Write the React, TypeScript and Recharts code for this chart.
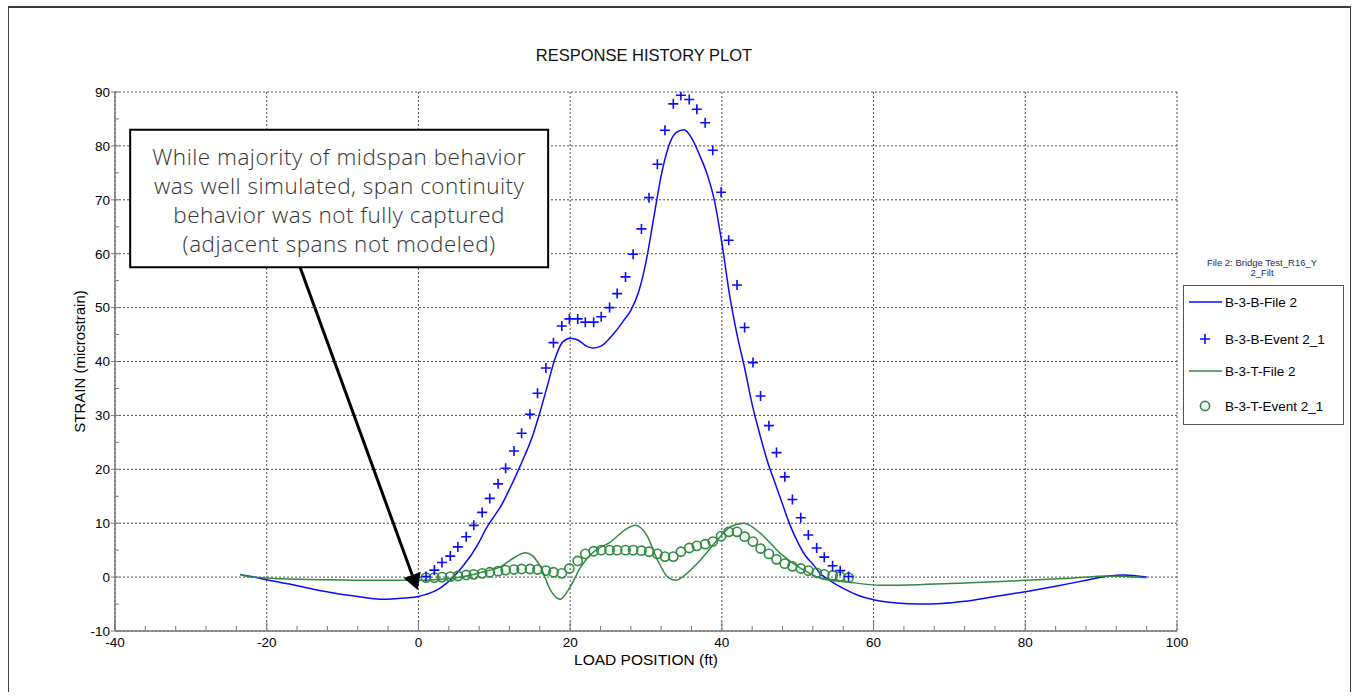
import {
  ComposedChart,
  Line,
  Scatter,
  XAxis,
  YAxis,
  CartesianGrid,
  ReferenceArea,
  ReferenceLine,
} from "recharts";

const FONT = '"Liberation Sans", Arial, sans-serif';
const NOTE_FONT = '"Open Sans", "DejaVu Sans", sans-serif';
const BLUE = "#0a0aff";
const GREEN = "#2e8b3f";
const AXIS = "#7a7a7a";

// axis ticks
const X_ALL_TICKS = [
  -40, -36, -32, -28, -24, -20, -16, -12, -8, -4, 0, 4, 8, 12, 16, 20, 24, 28, 32, 36, 40,
  44, 48, 52, 56, 60, 64, 68, 72, 76, 80, 84, 88, 92, 96, 100,
];
const X_MAJOR_TICKS = [-40, -20, 0, 20, 40, 60, 80, 100];
const X_GRID = [-20, 0, 20, 40, 60, 80];
const Y_ALL_TICKS = [-10, -5, 0, 5, 10, 15, 20, 25, 30, 35, 40, 45, 50, 55, 60, 65, 70, 75, 80, 85, 90];
const Y_MAJOR_TICKS = [-10, 0, 10, 20, 30, 40, 50, 60, 70, 80, 90];
const Y_GRID = [0, 10, 20, 30, 40, 50, 60, 70, 80];

// B-3-B-File 2 (model, blue line)
const B_FILE_X = [
  -23.5, -22, -20, -17, -14, -11, -8, -5, -3, -1, 0, 1, 2, 3, 4, 5, 6, 7, 8, 9, 10, 11, 12, 13,
  14, 15, 16, 17, 18, 19, 20, 21, 22, 23, 24, 25, 26, 27, 28, 29, 30, 31, 32, 33, 34, 35, 36,
  37, 38, 39, 40, 41, 42, 43, 44, 45, 46, 47, 48, 49, 50, 51, 52, 53, 54, 56, 58, 60, 63, 66,
  69, 72, 76, 80, 84, 88, 91, 93, 96,
];
const B_FILE_Y = [
  0.5, 0.1, -0.5, -1.3, -2.2, -3.0, -3.6, -4.1, -4.0, -3.8, -3.6, -3.2, -2.7, -1.9, -0.8, 0.6,
  2.3, 4.2, 6.5, 9.2, 11.3, 13.5, 16.3, 19.3, 22.5, 26.0, 30.5, 35.5, 40.5, 43.6, 44.3, 44.0,
  43.0, 42.5, 42.8, 44.0, 45.6, 47.5, 49.5, 52.8, 58.5, 66.5, 74.5, 80.0, 82.5, 83.0, 81.5,
  78.5, 75.0, 70.0, 62.0, 52.5, 45.0, 38.8, 32.0, 26.5, 21.5, 17.5, 13.5, 9.6, 6.5, 4.0, 2.4,
  0.6, -0.4, -2.1, -3.4, -4.2, -4.8, -5.0, -4.9, -4.5, -3.6, -2.7, -1.7, -0.6, 0.2, 0.4, 0.0,
];

// B-3-T-File 2 (model, green line)
const T_FILE_X = [
  -23.5, -22, -18, -12, -6, 0, 3, 6, 8.6, 10.8, 12.5, 14.1, 15, 16.1, 17.4, 18.7, 20, 21.4,
  23.1, 25.3, 27.5, 28.6, 30.2, 31.5, 32.8, 33.9, 35.4, 37.2, 39.4, 41.1, 42.9, 45.1, 47.7,
  50.4, 53, 56.5, 60.9, 66, 72, 80, 86, 91, 96,
];
const T_FILE_Y = [
  0.5, 0.0, -0.3, -0.5, -0.6, -0.6, -0.4, 0.1, 1.0, 1.9, 3.5, 4.5, 4.0, 1.9, -2.4, -4.1, -1.8,
  1.9, 4.7, 6.5, 9.0, 9.6, 7.5, 3.2, 0.1, -0.6, 0.7, 3.2, 6.9, 9.3, 10.0, 8.1, 4.4, 1.6, -0.2,
  -0.9, -1.5, -1.4, -1.1, -0.6, -0.2, 0.2, -0.1,
];

// field test events (markers share load positions)
const EVENT_X = [
  1.0, 2.1, 3.1, 4.2, 5.2, 6.3, 7.3, 8.4, 9.4, 10.5, 11.5, 12.6, 13.6, 14.7, 15.7, 16.8, 17.8,
  18.9, 19.9, 21.0, 22.0, 23.1, 24.1, 25.2, 26.2, 27.3, 28.3, 29.4, 30.4, 31.5, 32.5, 33.6,
  34.6, 35.7, 36.7, 37.8, 38.8, 39.9, 40.9, 42.0, 43.0, 44.1, 45.1, 46.2, 47.2, 48.3, 49.3,
  50.4, 51.4, 52.5, 53.5, 54.6, 55.6, 56.7,
];
const B_EVENT_Y = [
  0.1, 1.3, 2.7, 3.9, 5.6, 7.5, 9.6, 12.0, 14.6, 17.3, 20.2, 23.4, 26.7, 30.2, 34.1, 38.8, 43.5,
  46.6, 47.9, 47.9, 47.3, 47.3, 48.3, 50.0, 52.6, 55.7, 59.9, 64.6, 70.4, 76.6, 82.9, 87.8,
  89.4, 88.6, 86.8, 84.3, 79.2, 71.4, 62.5, 54.2, 46.3, 39.8, 33.6, 28.1, 23.1, 18.6, 14.4,
  11.0, 7.8, 5.4, 3.7, 2.1, 1.2, 0.1,
];
const T_EVENT_Y = [
  -0.1, -0.1, 0.0, 0.1, 0.2, 0.4, 0.5, 0.7, 0.9, 1.1, 1.3, 1.4, 1.5, 1.5, 1.4, 1.2, 0.9, 0.7,
  1.6, 3.0, 4.3, 4.8, 5.0, 5.0, 5.0, 5.0, 5.0, 4.9, 4.7, 4.3, 3.8, 3.8, 4.7, 5.4, 5.8, 6.1,
  6.6, 7.6, 8.4, 8.4, 7.5, 6.6, 5.3, 4.3, 3.3, 2.5, 2.0, 1.6, 1.2, 0.8, 0.5, 0.3, 0.1, -0.1,
];

const NOTE_LINES = [
  "While majority of midspan behavior",
  "was well simulated, span continuity",
  "behavior was not fully captured",
  "(adjacent spans not modeled)",
];
const NOTE_BOX = { x1: -38, x2: 17.1, y1: 57.5, y2: 83 };
const NOTE_ARROW = [
  { x: -15.6, y: 57.5 },
  { x: -0.1, y: -2.4 },
];

const toPoints = (xs: number[], ys: number[]) => xs.map((x, i) => ({ x, y: ys[i] }));

const bFileData = toPoints(B_FILE_X, B_FILE_Y);
const tFileData = toPoints(T_FILE_X, T_FILE_Y);
const bEventData = toPoints(EVENT_X, B_EVENT_Y);
const tEventData = toPoints(EVENT_X, T_EVENT_Y);

// eslint-disable-next-line @typescript-eslint/no-explicit-any
const BottomTick = (props: any) => {
  const { x, y, payload } = props;
  const major = X_MAJOR_TICKS.includes(payload.value);
  return (
    <g>
      <line x1={x} x2={x} y1={y} y2={y - (major ? 9 : 5)} stroke={AXIS} />
      {major && (
        <text x={x} y={y + 16} textAnchor="middle" fontSize={13.5} fontFamily={FONT} fill="#000">
          {payload.value}
        </text>
      )}
    </g>
  );
};

// eslint-disable-next-line @typescript-eslint/no-explicit-any
const LeftTick = (props: any) => {
  const { x, y, payload } = props;
  const major = Y_MAJOR_TICKS.includes(payload.value);
  return (
    <g>
      <line x1={major ? x - 4 : x} x2={x + 4} y1={y} y2={y} stroke={AXIS} />
      {major && (
        <text x={x - 5} y={y} dy="0.36em" textAnchor="end" fontSize={13.5} fontFamily={FONT} fill="#000">
          {payload.value}
        </text>
      )}
    </g>
  );
};

// eslint-disable-next-line @typescript-eslint/no-explicit-any
const TopTick = (props: any) => {
  const { x, y } = props;
  return <line x1={x} x2={x} y1={y} y2={y + 5} stroke={AXIS} />;
};

// eslint-disable-next-line @typescript-eslint/no-explicit-any
const RightTick = (props: any) => {
  const { x, y } = props;
  return <line x1={x - 5} x2={x} y1={y} y2={y} stroke={AXIS} />;
};

// eslint-disable-next-line @typescript-eslint/no-explicit-any
const PlusMark = (props: any) => {
  const { cx, cy } = props;
  if (cx == null || cy == null) return <g />;
  return (
    <path d={`M${cx - 5},${cy}H${cx + 5}M${cx},${cy - 5}V${cy + 5}`} stroke={BLUE} strokeWidth={1.6} fill="none" />
  );
};

// eslint-disable-next-line @typescript-eslint/no-explicit-any
const CircleMark = (props: any) => {
  const { cx, cy } = props;
  if (cx == null || cy == null) return <g />;
  return <circle cx={cx} cy={cy} r={4.6} stroke={GREEN} strokeWidth={1.6} fill="none" />;
};

// eslint-disable-next-line @typescript-eslint/no-explicit-any
const NoteLabel = (props: any) => {
  const vb = props.viewBox;
  if (!vb) return null;
  const cx = vb.x + vb.width / 2;
  return (
    <text
      textAnchor="middle"
      fontFamily={NOTE_FONT}
      fontWeight={300}
      fontSize={22.5}
      letterSpacing={0.5}
      fill="#333"
    >
      {NOTE_LINES.map((t, i) => (
        <tspan key={i} x={cx} y={vb.y + 35 + i * 29}>
          {t}
        </tspan>
      ))}
    </text>
  );
};

// eslint-disable-next-line @typescript-eslint/no-explicit-any
const ArrowShape = (props: any) => {
  const { x1, y1, x2, y2 } = props;
  if ([x1, y1, x2, y2].some((v) => v == null)) return <g />;
  const dx = x2 - x1;
  const dy = y2 - y1;
  const len = Math.hypot(dx, dy);
  const ux = dx / len;
  const uy = dy / len;
  const head = 16;
  const half = 9;
  const bx = x2 - ux * head;
  const by = y2 - uy * head;
  return (
    <g>
      <line x1={x1} y1={y1} x2={bx} y2={by} stroke="#000" strokeWidth={3} />
      <polygon
        points={`${x2},${y2} ${bx - uy * half},${by + ux * half} ${bx + uy * half},${by - ux * half}`}
        fill="#000"
      />
    </g>
  );
};

const LEGEND_ROWS = [
  { name: "B-3-B-File 2", kind: "line", color: BLUE },
  { name: "B-3-B-Event 2_1", kind: "plus", color: BLUE },
  { name: "B-3-T-File 2", kind: "line", color: GREEN },
  { name: "B-3-T-Event 2_1", kind: "circle", color: GREEN },
];
const LEGEND_ROW_Y = [54, 91, 123, 158];

function LegendBox() {
  return (
    <svg
      width={172}
      height={185}
      style={{ position: "absolute", left: 1170, top: 240, overflow: "visible" }}
    >
      <text x={83} y={17.5} textAnchor="middle" fontSize={9.5} fontFamily={FONT} fill="#2a2a5e">
        File 2: Bridge Test_R16_Y
      </text>
      <text x={83} y={27.5} textAnchor="middle" fontSize={9.5} fontFamily={FONT} fill="#2a2a5e">
        2_Filt
      </text>
      <rect x={4.5} y={37.5} width={160} height={139} fill="#fff" stroke="#555" />
      {LEGEND_ROWS.map((r, i) => {
        const y = LEGEND_ROW_Y[i];
        return (
          <g key={r.name}>
            {r.kind === "line" && <line x1={10} x2={43} y1={y} y2={y} stroke={r.color} strokeWidth={1.6} />}
            {r.kind === "plus" && <PlusMark cx={26} cy={y} />}
            {r.kind === "circle" && <CircleMark cx={26} cy={y} />}
            <text x={46} y={y + 4.8} fontSize={13.5} fontFamily={FONT} fill="#000">
              {r.name}
            </text>
          </g>
        );
      })}
    </svg>
  );
}

export default function App() {
  return (
    <div
      style={{
        position: "absolute",
        left: 8,
        top: 6,
        width: 1343,
        height: 686,
        boxSizing: "border-box",
        borderTop: "2px solid #3a3a3a",
        borderLeft: "1px solid #444",
        borderRight: "1px solid #444",
        background: "#fff",
        fontFamily: FONT,
      }}
    >
      <div
        style={{
          position: "absolute",
          left: 435,
          top: 38,
          width: 400,
          textAlign: "center",
          fontSize: 16.5,
          lineHeight: "18px",
          color: "#111",
        }}
      >
        RESPONSE HISTORY PLOT
      </div>

      <div style={{ position: "absolute", left: 0, top: 0 }}>
        <ComposedChart width={1340} height={684} margin={{ top: 84, right: 172, bottom: 21, left: 46 }}>
          {/* hidden axes that only carry the major grid positions */}
          <XAxis xAxisId="gx" type="number" dataKey="x" domain={[-40, 100]} ticks={X_GRID} allowDataOverflow hide height={0} />
          <YAxis yAxisId="gy" type="number" domain={[-10, 90]} ticks={Y_GRID} allowDataOverflow hide width={0} />
          <CartesianGrid xAxisId="gx" yAxisId="gy" stroke="#4a4a4a" strokeDasharray="2 2" />

          <XAxis
            xAxisId="x"
            type="number"
            dataKey="x"
            domain={[-40, 100]}
            ticks={X_ALL_TICKS}
            interval={0}
            allowDataOverflow
            height={40}
            tickSize={0}
            tickMargin={0}
            tickLine={false}
            tick={BottomTick}
            axisLine={{ stroke: AXIS, strokeWidth: 1.5 }}
            label={{
              value: "LOAD POSITION (ft)",
              position: "insideBottom",
              offset: 6,
              style: { fontFamily: FONT, fontSize: 15.5, fill: "#000" },
            }}
          />
          <XAxis
            xAxisId="top"
            orientation="top"
            type="number"
            dataKey="x"
            domain={[-40, 100]}
            ticks={X_ALL_TICKS}
            interval={0}
            allowDataOverflow
            height={0}
            tickSize={0}
            tickMargin={0}
            tickLine={false}
            tick={TopTick}
            axisLine={{ stroke: AXIS, strokeWidth: 1.5 }}
          />
          <YAxis
            yAxisId="y"
            type="number"
            domain={[-10, 90]}
            ticks={Y_ALL_TICKS}
            interval={0}
            allowDataOverflow
            width={60}
            tickSize={0}
            tickMargin={0}
            tickLine={false}
            tick={LeftTick}
            axisLine={{ stroke: AXIS, strokeWidth: 1.5 }}
            label={{
              value: "STRAIN (microstrain)",
              angle: -90,
              position: "insideLeft",
              offset: 25,
              style: { fontFamily: FONT, fontSize: 15, fill: "#000", textAnchor: "middle" },
            }}
          />
          <YAxis
            yAxisId="right"
            orientation="right"
            type="number"
            domain={[-10, 90]}
            ticks={Y_ALL_TICKS}
            interval={0}
            allowDataOverflow
            width={0}
            tickSize={0}
            tickMargin={0}
            tickLine={false}
            tick={RightTick}
            axisLine={{ stroke: AXIS, strokeWidth: 1.5 }}
          />

          <ReferenceArea
            xAxisId="x"
            yAxisId="y"
            x1={NOTE_BOX.x1}
            x2={NOTE_BOX.x2}
            y1={NOTE_BOX.y1}
            y2={NOTE_BOX.y2}
            fill="#fff"
            fillOpacity={1}
            stroke="#000"
            strokeWidth={2}
            label={NoteLabel}
          />

          <Line
            xAxisId="x"
            yAxisId="y"
            data={bFileData}
            dataKey="y"
            name="B-3-B-File 2"
            type="monotone"
            stroke={BLUE}
            strokeWidth={1.5}
            dot={false}
            activeDot={false}
            isAnimationActive={false}
          />
          <Line
            xAxisId="x"
            yAxisId="y"
            data={tFileData}
            dataKey="y"
            name="B-3-T-File 2"
            type="monotone"
            stroke={GREEN}
            strokeWidth={1.5}
            dot={false}
            activeDot={false}
            isAnimationActive={false}
          />
          <Scatter
            xAxisId="x"
            yAxisId="y"
            data={tEventData}
            dataKey="y"
            name="B-3-T-Event 2_1"
            shape={CircleMark}
            isAnimationActive={false}
          />
          <Scatter
            xAxisId="x"
            yAxisId="y"
            data={bEventData}
            dataKey="y"
            name="B-3-B-Event 2_1"
            shape={PlusMark}
            isAnimationActive={false}
          />

          <ReferenceLine
            xAxisId="x"
            yAxisId="y"
            segment={NOTE_ARROW}
            stroke="#000"
            ifOverflow="visible"
            shape={ArrowShape}
          />
        </ComposedChart>
      </div>

      <LegendBox />
    </div>
  );
}
